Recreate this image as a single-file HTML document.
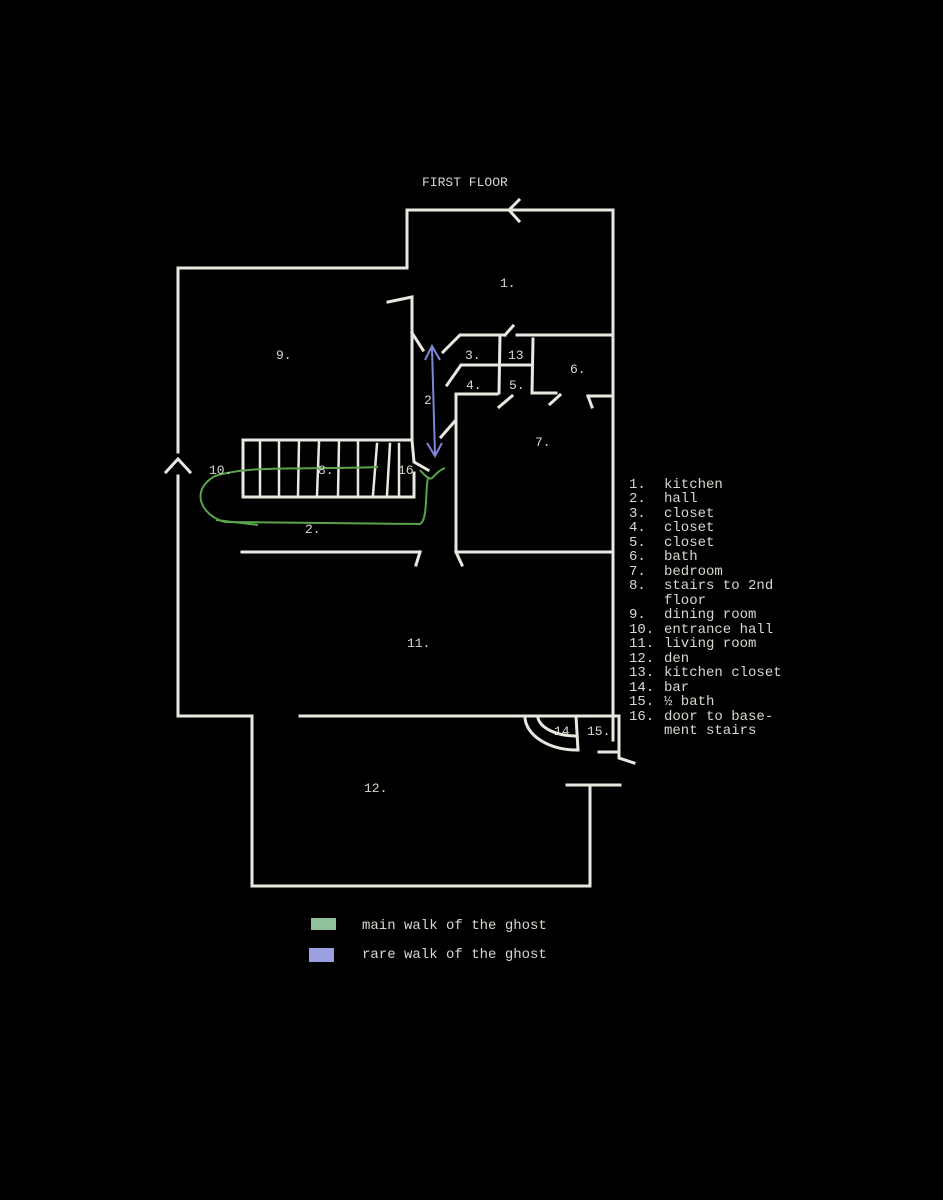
<!DOCTYPE html>
<html><head><style>
html,body{margin:0;padding:0;background:#000;}
svg{display:block}
text{font-family:"Liberation Mono",monospace;fill:#d8d8d0;font-size:13px}
.l{font-size:14px}
</style></head><body>
<svg width="943" height="1200" viewBox="0 0 943 1200">
<rect width="943" height="1200" fill="#000"/>
<g stroke="#e8e8e0" stroke-width="3" fill="none" stroke-linecap="square">
<polyline points="407,268 407,210 613,210 613,740"/>
<polyline points="407,268 178,268 178,452"/>
<polyline points="178,476 178,716 252,716 252,886 590,886 590,785"/>
<line x1="567" y1="785" x2="620" y2="785"/>
<line x1="300" y1="716" x2="619" y2="716"/>
<polyline points="619,716 619,758 634,763"/>
<polyline points="519,200 509,210 519,221"/>
<polyline points="166,472 178,459 190,472"/>
<polyline points="388,302 412,297 412,440"/>
<line x1="412" y1="333" x2="423" y2="350"/>
<polyline points="443,352 460,335 505,335"/>
<line x1="505" y1="335" x2="513" y2="326"/>
<line x1="517" y1="335" x2="613" y2="335"/>
<polyline points="533,339 532,393 556,393"/>
<line x1="550" y1="404" x2="560" y2="395"/>
<line x1="500" y1="335" x2="499" y2="393"/>
<polyline points="447,385 461,365 532,365"/>
<polyline points="497,394 456,394 456,552 613,552"/>
<line x1="499" y1="407" x2="512" y2="396"/>
<line x1="441" y1="437" x2="455" y2="421"/>
<polyline points="588,396 613,396"/>
<line x1="588" y1="396" x2="592" y2="407"/>
<line x1="456" y1="552" x2="462" y2="565"/>
<line x1="242" y1="552" x2="420" y2="552"/>
<line x1="420" y1="552" x2="416" y2="565"/>
<polyline points="412,440 243,440 243,497 414,497 414,473"/>
<polyline points="412,440 414,462 428,470"/>
<g stroke-width="2.5">
<line x1="260" y1="442" x2="260" y2="495"/>
<line x1="279" y1="442" x2="279" y2="495"/>
<line x1="299" y1="442" x2="298" y2="495"/>
<line x1="319" y1="442" x2="317" y2="495"/>
<line x1="339" y1="442" x2="338" y2="495"/>
<line x1="358" y1="442" x2="358" y2="495"/>
<line x1="377" y1="444" x2="373" y2="495"/>
<line x1="390" y1="444" x2="387" y2="495"/>
<line x1="399" y1="444" x2="399" y2="495"/>
</g>
<path d="M525,718 A52,34 0 0 0 577,750" />
<path d="M538,718 A38,21 0 0 0 575,736" />
<line x1="576" y1="716" x2="578" y2="750"/>
<line x1="599" y1="752" x2="619" y2="752"/>
</g>
<g fill="none" stroke-width="2">
<path d="M432,348 L435,455 M425,360 L432,346 L440,360 M427,443 L435,456 L442,443" stroke="#7f86d8"/>
<path d="M378,467 C300,470 250,465 215,476 C190,490 200,515 225,522 L420,524 C428,520 425,490 428,478 M420,470 C425,476 430,480 432,478 C438,472 440,470 445,468" stroke="#5aa44a"/>
<path d="M216,520 L258,525" stroke="#5aa44a"/>
</g>
<rect x="311" y="918" width="25" height="12" fill="#8fc29a"/>
<rect x="309" y="948" width="25" height="14" fill="#9aa0e0"/>
<text x="422" y="186" font-size="12">FIRST FLOOR</text>
<text x="500" y="287">1.</text>
<text x="276" y="359">9.</text>
<text x="465" y="359">3.</text>
<text x="508" y="359">13</text>
<text x="570" y="373">6.</text>
<text x="466" y="389">4.</text>
<text x="509" y="389">5.</text>
<text x="424" y="404">2</text>
<text x="535" y="446">7.</text>
<text x="209" y="474">10.</text>
<text x="318" y="474">8.</text>
<text x="398" y="474">16</text>
<text x="305" y="533">2.</text>
<text x="407" y="647">11.</text>
<text x="554" y="735">14</text>
<text x="587" y="735">15.</text>
<text x="364" y="792">12.</text>
<text class="l" x="362" y="929">main walk of the ghost</text>
<text class="l" x="362" y="958">rare walk of the ghost</text>
<g class="l">
<text class="l" x="629" y="488">1.</text><text class="l" x="664" y="488">kitchen</text>
<text class="l" x="629" y="502">2.</text><text class="l" x="664" y="502">hall</text>
<text class="l" x="629" y="517">3.</text><text class="l" x="664" y="517">closet</text>
<text class="l" x="629" y="531">4.</text><text class="l" x="664" y="531">closet</text>
<text class="l" x="629" y="546">5.</text><text class="l" x="664" y="546">closet</text>
<text class="l" x="629" y="560">6.</text><text class="l" x="664" y="560">bath</text>
<text class="l" x="629" y="575">7.</text><text class="l" x="664" y="575">bedroom</text>
<text class="l" x="629" y="589">8.</text><text class="l" x="664" y="589">stairs to 2nd</text>
<text class="l" x="664" y="604">floor</text>
<text class="l" x="629" y="618">9.</text><text class="l" x="664" y="618">dining room</text>
<text class="l" x="629" y="633">10.</text><text class="l" x="664" y="633">entrance hall</text>
<text class="l" x="629" y="647">11.</text><text class="l" x="664" y="647">living room</text>
<text class="l" x="629" y="662">12.</text><text class="l" x="664" y="662">den</text>
<text class="l" x="629" y="676">13.</text><text class="l" x="664" y="676">kitchen closet</text>
<text class="l" x="629" y="691">14.</text><text class="l" x="664" y="691">bar</text>
<text class="l" x="629" y="705">15.</text><text class="l" x="664" y="705">½ bath</text>
<text class="l" x="629" y="720">16.</text><text class="l" x="664" y="720">door to base-</text>
<text class="l" x="664" y="734">ment stairs</text>
</g>
</svg>
</body></html>
